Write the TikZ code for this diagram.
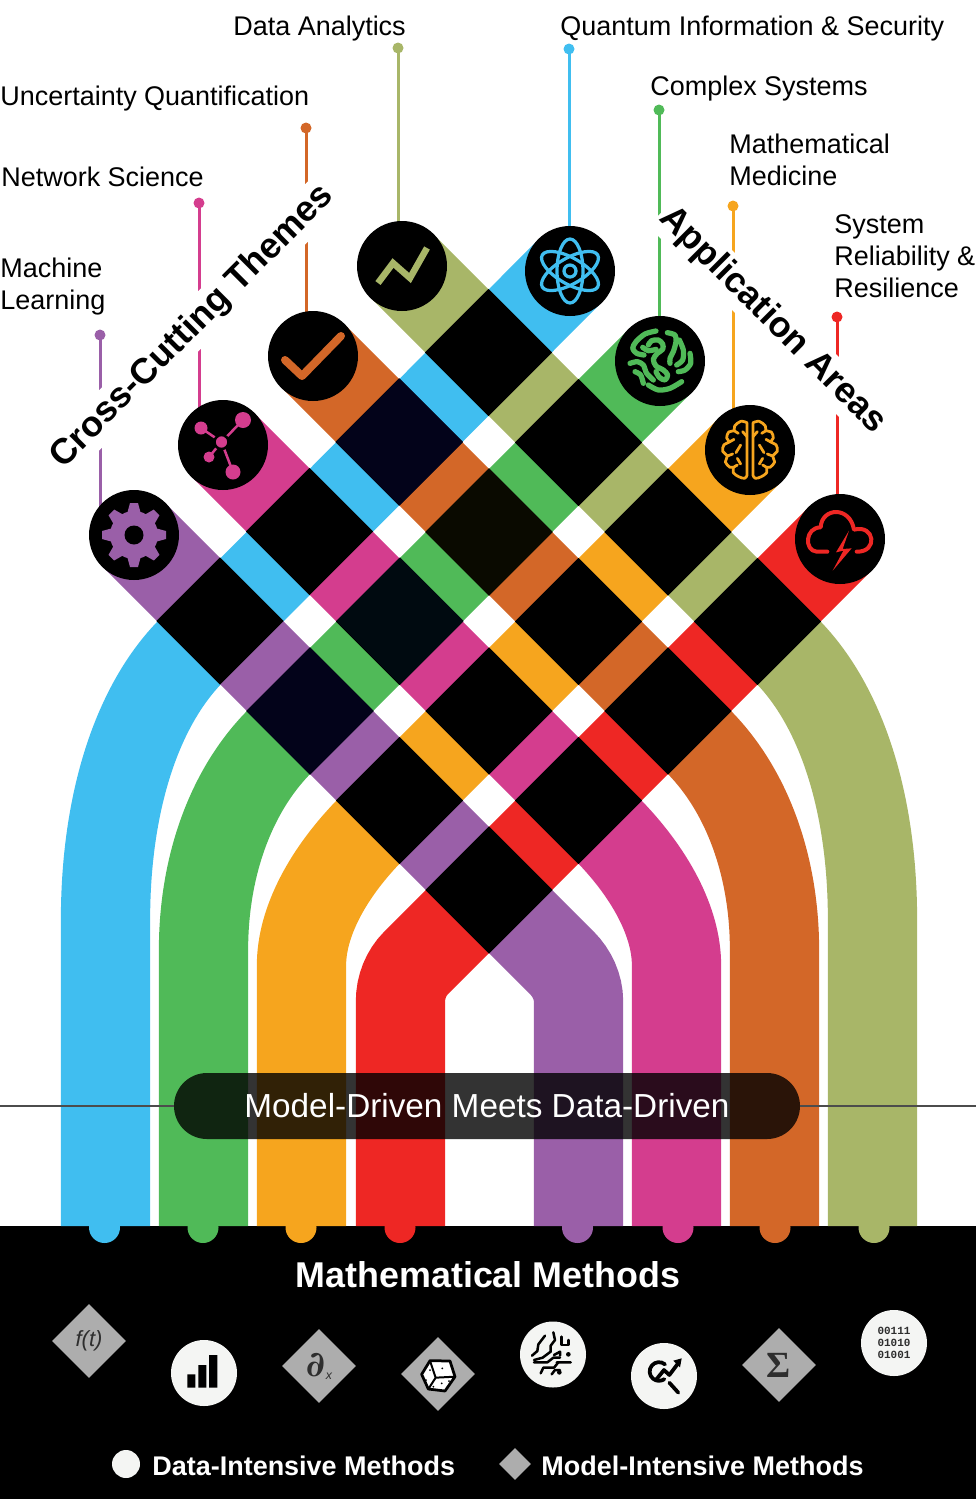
\documentclass[tikz,border=0pt]{standalone}
\usepackage{fontspec}
\setmainfont{Liberation Sans}
\setmonofont{Liberation Mono}
\newfontfamily\sigmafont{Liberation Serif}
\newfontfamily\partialfont{DejaVu Serif}
\usetikzlibrary{calc,shapes.geometric}
\definecolor{skyband}{HTML}{40BEF0}
\definecolor{greenband}{HTML}{50BA58}
\definecolor{amberband}{HTML}{F6A51E}
\definecolor{redband}{HTML}{EE2724}
\definecolor{plumband}{HTML}{9A5FA8}
\definecolor{pinkband}{HTML}{D43D8E}
\definecolor{rustband}{HTML}{D36728}
\definecolor{oliveband}{HTML}{A8B668}
\definecolor{chipwhite}{HTML}{F4F5F3}
\definecolor{chipgray}{HTML}{ADADAD}
\definecolor{inkgray}{HTML}{2E2E2E}
\tikzset{
	ribbon/.style={line width=17.85mm},
	pinline/.style={line width=0.6mm},
	pindot/.style={circle,inner sep=0pt,minimum size=2.2mm},
	bandtitle/.style={font=\fontsize{20.4}{24}\selectfont\bfseries,fill=white,inner xsep=0.5mm,inner ysep=0.9mm},
	areatext/.style={font=\fontsize{15.35}{18.2}\selectfont,inner sep=0pt,align=left,text=black},
	disc/.style={circle,fill=black,inner sep=0pt,minimum size=18mm},
	iconline/.style={line width=1.05mm,line cap=round,line join=round},
	thinicon/.style={line width=0.55mm,line cap=round,line join=round},
	datachip/.style={circle,fill=chipwhite,inner sep=0pt,minimum size=13.2mm},
	modelchip/.style={diamond,aspect=1,fill=chipgray,inner sep=0pt,minimum size=14.8mm,text=inkgray},
	legendtext/.style={font=\fontsize{15.35}{18}\selectfont\bfseries,text=white,inner sep=0pt,anchor=base west}
}
\def\ribbonpath[#1](#2)(#3)(#4)(#5)(#6){\draw[ribbon,#1] (#2) -- (#3) .. controls (#4) and (#5) .. (#6) -- ($(#6 |- 0,1226)$);}

\begin{document}
\begin{tikzpicture}[x=0.2mm,y=-0.2mm]
		%%%%% START %%%%%
		\useasboundingbox (0,0) rectangle (976,1501);
		\coordinate (gear) at (134,535);
		\coordinate (hub) at (223,445);
		\coordinate (tick) at (313,356);
		\coordinate (trend) at (402,266);
		\coordinate (atom) at (570,271);
		\coordinate (swirl) at (660,361);
		\coordinate (brain) at (750,450);
		\coordinate (cloud) at (840,539);
		
		\fill[black] (0,1226) rectangle (976,1498.5);
		
		\ribbonpath[skyband](atom)(192,650)(137,705)(105.5,802)(105.5,920);
		\ribbonpath[greenband](swirl)(280,741)(231,790)(203.5,866)(203.5,950);
		\ribbonpath[amberband](brain)(373,827)(327,873)(301.5,923)(301.5,965);
		\ribbonpath[redband](cloud)(416,963)(406,973)(400.5,987)(400.5,1001);
		\ribbonpath[plumband](gear)(562,963)(572,973)(578.5,987)(578.5,1001);
		\ribbonpath[pinkband](hub)(605,827)(651,873)(676.5,923)(676.5,965);
		\ribbonpath[rustband](tick)(698,741)(747,790)(774.5,866)(774.5,950);
		\ribbonpath[oliveband](trend)(786,650)(841,705)(872.5,802)(872.5,920);
		
		\foreach \a in {-401,-222,-43,136}
			\foreach \b in {841,1021,1200,1379}
				\fill[black] ({(\a+\b)/2},{(\b-\a)/2}) +(63.6,0) -- +(0,63.6) -- +(-63.6,0) -- +(0,-63.6) -- cycle;
		\foreach \cx/\cy/\tint in {399.5/442/03031A,310/711/03031A,489/532/0A0A00,400/621/000A10}{
			\definecolor{tintnow}{HTML}{\tint}
			\fill[tintnow] (\cx,\cy) +(63.6,0) -- +(0,63.6) -- +(-63.6,0) -- +(0,-63.6) -- cycle;
		}
		
		\foreach \name/\pinx/\piny/\col in {gear/100/335/plumband,hub/199/203/pinkband,tick/306/128/rustband,trend/398/48/oliveband,atom/569/49/skyband,swirl/659/110/greenband,brain/733/206/amberband,cloud/837/317/redband}{
			\node[pindot,fill=\col] (\name pin) at (\pinx,\piny) {};
			\draw[pinline,\col] (\name pin.center) -- (\name pin |- \name);
		}
		\node[bandtitle,rotate=45] (crosstitle) at (192.5,327) {Cross-Cutting Themes};
		\node[bandtitle,rotate=-45] (apptitle) at (772.5,320.5) {Application Areas};
		
		\foreach \name in {gear,hub,tick,trend,atom,swirl,brain,cloud}
			\node[disc] (\name disc) at (\name) {};
		
		\begin{scope}[shift={(gear)}]
			\foreach \ang in {0,45,...,315}
				\fill[plumband,rotate=\ang] (-7,-21) -- (-4,-32) -- (4,-32) -- (7,-21) -- cycle;
			\fill[plumband] (0,0) circle (24);
			\fill[black] (0,0) circle (9.5);
		\end{scope}
		
		\begin{scope}[pinkband]
			\draw[line width=0.5mm] (221.5,442) -- (243,420) (221.5,442) -- (201,428) (221.5,442) -- (209,457) (221.5,442) -- (233,472);
			\fill (243,420) circle (8) (201,428) circle (6.5) (209,457) circle (5.5) (233,472) circle (7.5);
			\draw[fill=pinkband,draw=black,line width=0.5mm] (221.5,442) circle (7);
		\end{scope}
		
		\draw[rustband,line width=1.6mm,line cap=round,line join=round] (285,360) -- (302,376) -- (341,336);
		\draw[oliveband,line width=1.3mm,line join=miter] (378,283) -- (393,263) -- (410,278) -- (427,248);
		
		\begin{scope}[shift={(atom)},skyband,line width=0.65mm]
			\draw (0,0) ellipse [x radius=13,y radius=32];
			\draw[rotate=60] (0,0) ellipse [x radius=13,y radius=32];
			\draw[rotate=-60] (0,0) ellipse [x radius=13,y radius=32];
			\draw (0,0) circle (6);
		\end{scope}
		
		\begin{scope}[shift={(620,320)},scale=1/3,greenband,iconline]
			\draw plot[smooth] coordinates {(108,33) (75,42) (48,65) (38,85) (50,100) (72,105)};
			\draw plot[smooth] coordinates {(85,75) (95,62) (115,60) (128,72) (128,88) (112,100) (100,118) (108,138) (130,150) (143,165) (135,180) (118,172) (108,155)};
			\draw plot[smooth] coordinates {(68,82) (85,92) (108,88)};
			\draw plot[smooth] coordinates {(142,38) (165,45) (168,65) (160,95) (150,115) (150,130)};
			\draw plot[smooth] coordinates {(178,60) (190,90) (188,120) (170,135)};
			\draw plot[smooth] coordinates {(210,100) (212,130) (195,150) (175,155)};
			\draw plot[smooth] coordinates {(85,195) (115,210) (150,205) (185,185)};
			\draw plot[smooth] coordinates {(30,130) (52,125) (70,135) (80,160) (100,180)};
			\draw plot[smooth] coordinates {(45,155) (62,165) (70,190)};
		\end{scope}
		
		\foreach \side in {1,-1}{
			\begin{scope}[shift={(750,410)},xscale=\side/3,yscale=1/3,amberband,thinicon]
				\draw plot[smooth,tension=0.6] coordinates {(9,38) (28,34) (46,48) (48,62) (64,66) (70,84) (62,96) (78,104) (82,124) (68,138) (74,156) (60,172) (50,172) (50,188) (34,200) (16,205) (9,196)} -- (9,38);
				\draw (28,105) -- (42,128) (38,145) -- (28,162) (9,80) -- (22,65) (48,62) -- (35,70) (62,96) -- (48,88) (68,138) -- (52,132) (50,172) -- (38,165);
			\end{scope}
		}
		
		\begin{scope}[shift={(800,499)},scale=1/3,redband]
			\draw[line width=0.8mm,line cap=round,line join=round] (82,158) -- (50,158) .. controls (12,155) and (15,85) .. (62,85) .. controls (65,25) and (150,20) .. (162,92) .. controls (225,75) and (235,160) .. (170,158);
			\fill (147,95) -- (108,160) -- (130,155) -- (98,215) -- (155,148) -- (128,150) -- cycle;
		\end{scope}
		
		\node[areatext,anchor=base west] (analyticslabel) at (233,35.5) {Data Analytics};
		\node[areatext,anchor=base west] (quantumlabel) at (560,35.5) {Quantum Information \& Security};
		\node[areatext,anchor=base west] (uqlabel) at (0,105.5) {Uncertainty Quantification};
		\node[areatext,anchor=base west] (networklabel) at (1,186.5) {Network Science};
		\node[areatext,anchor=west] (mllabel) at (0,287) {Machine\\Learning};
		\node[areatext,anchor=base west] (complexlabel) at (650,95.5) {Complex Systems};
		\node[areatext,anchor=west] (medicinelabel) at (729,160) {Mathematical\\Medicine};
		\node[areatext,anchor=west] (reliabilitylabel) at (834,256) {System\\Reliability \&\\Resilience};
		
		\node[fill=black,fill opacity=0.8,text opacity=1,text=white,rounded corners=6.6mm,minimum width=125.2mm,minimum height=13.2mm,inner sep=0pt,font=\fontsize{18.96}{22}\selectfont] (drivenpill) at (487,1106) {Model-Driven Meets Data-Driven};
		\coordinate (lineleft) at (0,1106);
		\coordinate (lineright) at (976,1106);
		\draw[line width=0.55mm,color=black!70] (lineleft) -- (drivenpill.west);
		\draw[line width=0.55mm,color=black!70] (lineright) -- (drivenpill.east);
		
		\foreach \tx/\col in {104.5/skyband,203/greenband,301/amberband,400/redband,577.5/plumband,678/pinkband,775/rustband,874/oliveband}
			\fill[\col] (\tx,1227.5) circle (15.5);
		
		\node[font=\fontsize{20.4}{24}\selectfont\bfseries,text=white,inner sep=0pt] (methodstitle) at (488,1275) {Mathematical Methods};
		
		\node[modelchip,font=\fontsize{12.5}{14}\selectfont\itshape] (ftchip) at (89,1341) {f(t)};
		\node[datachip] (barchip) at (204,1373) {};
		\fill[black] (187.3,1374.3) rectangle (195.3,1387.7) (198.3,1365) rectangle (206.3,1387.7) (209,1355) rectangle (217.3,1387.7);
		\node[modelchip] (partialchip) at (319,1366) {\fontsize{20}{20}\selectfont\partialfont\bfseries\itshape ∂\hspace{0.2mm}\raisebox{-0.6mm}{\fontsize{7}{7}\selectfont\rmfamily\mdseries\itshape x}};
		\node[modelchip] (dicechip) at (438,1374) {};
		\begin{scope}[shift={(270,1315)},scale=1/3]
			\draw[fill=white,line width=0.55mm,line join=round] (480,137) -- (540,138) -- (555,185) -- (525,228) -- (475,222) -- (455,178) -- cycle;
			\draw[line width=0.4mm] (480,137) -- (497,188) -- (555,185) (497,188) -- (475,222);
			\fill (517,160) circle (3) (480,165) circle (3) (468,195) circle (3) (515,205) circle (3) (490,215) circle (3) (537,198) circle (3);
		\end{scope}
		\node[datachip] (circuitchip) at (553,1354.5) {};
		\begin{scope}[shift={(510,1315)},scale=1/3,black,line width=0.5mm,line cap=round,line join=round]
			\draw (105,62) -- (85,88) -- (82,108) -- (66,122);
			\draw (130,52) -- (135,75) -- (122,92) -- (122,110) -- (98,128) -- (72,135);
			\draw (155,65) -- (155,90) -- (175,90) -- (175,75);
			\draw (132,120) -- (150,110) -- (150,122);
			\draw (72,142) -- (112,142) -- (130,128) -- (150,128) (140,142) -- (182,142);
			\draw (92,175) -- (100,158) -- (132,158) -- (145,142);
			\draw (125,178) -- (135,165) -- (150,165);
			\fill (175,118) circle (7) (148,172) circle (7);
		\end{scope}
		\node[datachip] (searchchip) at (664,1376) {};
		\begin{scope}[shift={(510,1315)},scale=1/3,black,line width=0.75mm,line cap=round,line join=round]
			\draw (465,148) arc (-50:-305:28);
			\draw (478,203) -- (505,233);
			\draw (440,192) -- (462,165) -- (478,180) -- (508,140);
			\fill (515,130) -- (490,137) -- (510,157) -- cycle;
		\end{scope}
		\node[modelchip,font=\fontsize{21}{24}\selectfont\sigmafont\bfseries] (sumchip) at (779,1365) {Σ};
		\node[datachip,font=\fontsize{6.24}{6.8}\selectfont\ttfamily\bfseries,text=inkgray,align=center] (binarychip) at (894,1343) {00111\\01010\\01001};
		
		\node[circle,fill=chipwhite,inner sep=0pt,minimum size=5.6mm] (datakey) at (126,1464) {};
		\node[legendtext] (datakeylabel) at (152,1475) {Data-Intensive Methods};
		\node[diamond,aspect=1,fill=chipgray,inner sep=0pt,minimum size=6.4mm] (modelkey) at (515,1464) {};
		\node[legendtext] (modelkeylabel) at (541,1475) {Model-Intensive Methods};
		%%%%% END %%%%%
	\end{tikzpicture}
\end{document}
